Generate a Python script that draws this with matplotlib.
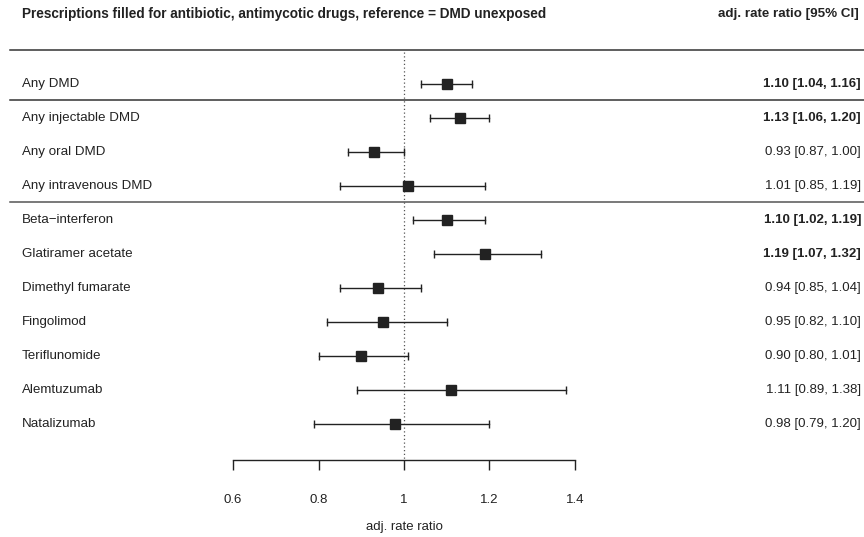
import matplotlib
matplotlib.use("Agg")
import matplotlib.pyplot as plt

plt.rcParams["font.family"] = ["Liberation Sans", "DejaVu Sans"]

# --- data ---
labels = [
    "Any DMD",
    "Any injectable DMD",
    "Any oral DMD",
    "Any intravenous DMD",
    "Beta\u2212interferon",
    "Glatiramer acetate",
    "Dimethyl fumarate",
    "Fingolimod",
    "Teriflunomide",
    "Alemtuzumab",
    "Natalizumab",
]
estimate = [1.10, 1.13, 0.93, 1.01, 1.10, 1.19, 0.94, 0.95, 0.90, 1.11, 0.98]
lower = [1.04, 1.06, 0.87, 0.85, 1.02, 1.07, 0.85, 0.82, 0.80, 0.89, 0.79]
upper = [1.16, 1.20, 1.00, 1.19, 1.19, 1.32, 1.04, 1.10, 1.01, 1.38, 1.20]
x_ticks = [0.6, 0.8, 1.0, 1.2, 1.4]
x_tick_labels = ["0.6", "0.8", "1", "1.2", "1.4"]

title = "Prescriptions filled for antibiotic, antimycotic drugs, reference = DMD unexposed"
col_header = "adj. rate ratio [95% CI]"
xlabel = "adj. rate ratio"

# --- layout (pixel space in y, data space in x) ---
W, H = 864, 537
px_per_unit = 427.5          # 0.6 -> 233 px, 1.4 -> 575 px
x0 = 0.6 - 233 / px_per_unit
x1 = 0.6 + (W - 233) / px_per_unit
row_y = [84 + 34 * i for i in range(len(labels))]
INK = "#222222"

fig = plt.figure(figsize=(W / 100, H / 100), dpi=100)
ax = fig.add_axes([0, 0, 1, 1])
ax.set_xlim(x0, x1)
ax.set_ylim(H, 0)
ax.axis("off")
ytr = ax.get_yaxis_transform()   # x in axes fraction, y in data

# header
ax.text(22 / W, 14, title, transform=ytr, ha="left", va="center",
        fontsize=9.85, weight="bold", color=INK)
ax.text(859 / W, 14, col_header, transform=ytr, ha="right", va="center",
        fontsize=9.6, weight="bold", color=INK)

# separators
for yy, c in [(50, "#333333"), (100, "#333333"), (202, "#555555")]:
    ax.plot([10 / W, 1], [yy, yy], transform=ytr, color=c, lw=1.1)

# reference line
ax.vlines(1.0, 52, 460, colors="#555555", linestyles=(0, (1, 2)), lw=0.9)

# estimates with CIs
for y, est, lo, hi, lab in zip(row_y, estimate, lower, upper, labels):
    ax.plot([lo, hi], [y, y], color=INK, lw=1)
    ax.vlines([lo, hi], y - 4, y + 4, colors=INK, lw=1)
    ax.plot(est, y, marker="s", ms=6.5, color=INK, mec=INK)
    ax.text(22 / W, y, lab, transform=ytr, ha="left", va="center",
            fontsize=9.6, color=INK)
    sig = lo > 1.0 or hi < 1.0
    ax.text(861 / W, y, f"{est:.2f} [{lo:.2f}, {hi:.2f}]", transform=ytr,
            ha="right", va="center", fontsize=9.5, color=INK,
            weight="bold" if sig else "normal")

# x axis
ax.plot([x_ticks[0], x_ticks[-1]], [460, 460], color=INK, lw=1)
ax.vlines(x_ticks, 460, 470, colors=INK, lw=1)
for t, tl in zip(x_ticks, x_tick_labels):
    ax.text(t, 500, tl, ha="center", va="center", fontsize=9.5, color=INK)
ax.text(1.0, 527, xlabel, ha="center", va="center", fontsize=9.5, color=INK)

fig.savefig("out.png", dpi=100, facecolor="white")
